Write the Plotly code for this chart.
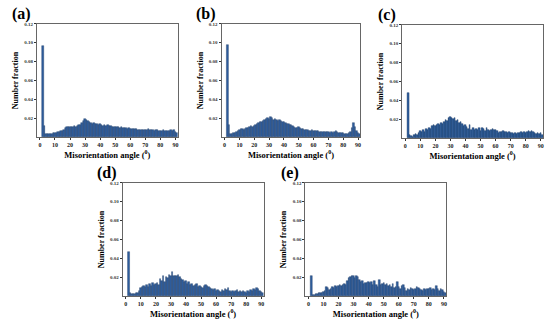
import plotly.graph_objects as go

angles = list(range(2, 92))

frac_a = [0.097, 0.012, 0.004, 0.003, 0.003, 0.004, 0.004, 0.005, 0.005, 0.005,
          0.006, 0.006, 0.007, 0.007, 0.008, 0.010, 0.011, 0.011, 0.011, 0.011,
          0.011, 0.012, 0.011, 0.012, 0.013, 0.013, 0.015, 0.017, 0.019, 0.018,
          0.017, 0.016, 0.015, 0.014, 0.015, 0.014, 0.014, 0.013, 0.014, 0.013,
          0.012, 0.013, 0.012, 0.013, 0.012, 0.012, 0.011, 0.011, 0.011, 0.011,
          0.011, 0.010, 0.011, 0.010, 0.010, 0.010, 0.009, 0.010, 0.009, 0.009,
          0.009, 0.009, 0.009, 0.008, 0.008, 0.008, 0.008, 0.008, 0.008, 0.008,
          0.009, 0.008, 0.008, 0.008, 0.007, 0.008, 0.008, 0.007, 0.007, 0.007,
          0.008, 0.007, 0.007, 0.007, 0.007, 0.008, 0.007, 0.008, 0.006, 0.005]

frac_b = [0.098, 0.013, 0.004, 0.004, 0.005, 0.005, 0.006, 0.007, 0.008, 0.009,
          0.009, 0.008, 0.009, 0.010, 0.010, 0.011, 0.012, 0.011, 0.012, 0.013,
          0.014, 0.015, 0.016, 0.016, 0.017, 0.018, 0.019, 0.020, 0.019, 0.021,
          0.020, 0.018, 0.019, 0.018, 0.017, 0.018, 0.017, 0.016, 0.016, 0.015,
          0.014, 0.014, 0.013, 0.013, 0.012, 0.011, 0.010, 0.010, 0.011, 0.010,
          0.009, 0.009, 0.008, 0.008, 0.008, 0.007, 0.007, 0.008, 0.007, 0.007,
          0.007, 0.007, 0.006, 0.006, 0.006, 0.006, 0.006, 0.006, 0.006, 0.005,
          0.006, 0.005, 0.006, 0.007, 0.006, 0.005, 0.005, 0.005, 0.005, 0.004,
          0.004, 0.004, 0.005, 0.006, 0.010, 0.015, 0.011, 0.007, 0.005, 0.003]

frac_c = [0.048, 0.003, 0.002, 0.001, 0.004, 0.005, 0.004, 0.006, 0.008, 0.007,
          0.009, 0.007, 0.010, 0.009, 0.011, 0.010, 0.013, 0.014, 0.013, 0.014,
          0.015, 0.014, 0.016, 0.015, 0.017, 0.019, 0.018, 0.022, 0.023, 0.022,
          0.020, 0.021, 0.018, 0.019, 0.016, 0.017, 0.015, 0.013, 0.014, 0.012,
          0.010, 0.014, 0.009, 0.011, 0.009, 0.010, 0.009, 0.011, 0.008, 0.011,
          0.010, 0.008, 0.011, 0.009, 0.008, 0.009, 0.010, 0.009, 0.009, 0.008,
          0.006, 0.007, 0.007, 0.008, 0.007, 0.007, 0.006, 0.007, 0.006, 0.006,
          0.005, 0.006, 0.005, 0.006, 0.006, 0.007, 0.006, 0.007, 0.006, 0.007,
          0.008, 0.007, 0.008, 0.007, 0.006, 0.005, 0.006, 0.005, 0.006, 0.004]

frac_d = [0.047, 0.004, 0.002, 0.002, 0.002, 0.003, 0.004, 0.006, 0.009, 0.010,
          0.011, 0.010, 0.012, 0.010, 0.013, 0.011, 0.014, 0.012, 0.013, 0.014,
          0.012, 0.018, 0.016, 0.021, 0.015, 0.020, 0.019, 0.023, 0.021, 0.026,
          0.022, 0.021, 0.022, 0.023, 0.020, 0.018, 0.017, 0.015, 0.016, 0.013,
          0.015, 0.012, 0.013, 0.011, 0.012, 0.013, 0.010, 0.011, 0.010, 0.009,
          0.011, 0.012, 0.011, 0.010, 0.009, 0.008, 0.007, 0.008, 0.006, 0.007,
          0.006, 0.005, 0.007, 0.006, 0.008, 0.007, 0.009, 0.006, 0.005, 0.006,
          0.005, 0.006, 0.007, 0.005, 0.006, 0.005, 0.006, 0.005, 0.004, 0.006,
          0.005, 0.007, 0.006, 0.008, 0.007, 0.009, 0.008, 0.006, 0.005, 0.003]

frac_e = [0.022, 0.001, 0.001, 0.002, 0.002, 0.003, 0.003, 0.004, 0.005, 0.006,
          0.010, 0.009, 0.007, 0.008, 0.010, 0.009, 0.011, 0.010, 0.011, 0.012,
          0.011, 0.012, 0.013, 0.012, 0.016, 0.019, 0.020, 0.021, 0.022, 0.019,
          0.021, 0.020, 0.017, 0.015, 0.016, 0.013, 0.014, 0.014, 0.015, 0.014,
          0.015, 0.012, 0.016, 0.012, 0.010, 0.017, 0.012, 0.013, 0.014, 0.012,
          0.013, 0.011, 0.012, 0.010, 0.013, 0.009, 0.010, 0.015, 0.010, 0.008,
          0.011, 0.012, 0.009, 0.006, 0.008, 0.007, 0.009, 0.008, 0.007, 0.008,
          0.010, 0.009, 0.008, 0.007, 0.006, 0.008, 0.007, 0.008, 0.008, 0.009,
          0.007, 0.008, 0.007, 0.011, 0.008, 0.006, 0.008, 0.007, 0.005, 0.003]

panel_labels = ["(a)", "(b)", "(c)", "(d)", "(e)"]
x_ticks = [0, 10, 20, 30, 40, 50, 60, 70, 80, 90]
y_ticks = [0.02, 0.04, 0.06, 0.08, 0.10, 0.12]
x_title = "Misorientation angle (<sup>0</sup>)"
y_title = "Number fraction"

series = [frac_a, frac_b, frac_c, frac_d, frac_e]

W, H = 550, 320
# pixel boxes: (left, right, top, bottom)
boxes = [(37, 178, 22, 136), (222, 361, 22, 136), (403, 544, 23, 137),
         (123, 264, 182, 296), (306, 447, 182, 296)]

FONT = "Liberation Serif"
fig = go.Figure()
layout = dict(
    width=W, height=H, margin=dict(l=0, r=0, t=0, b=0),
    paper_bgcolor="white", plot_bgcolor="white", showlegend=False,
    bargap=0, font=dict(family=FONT, color="black"),
)
y_ticktext = ["<b>%.2f</b>" % v for v in y_ticks]
x_ticktext = ["<b>%d</b>" % v for v in x_ticks]
annotations = []
for i, (vals, lab, (l, r, t, b)) in enumerate(zip(series, panel_labels, boxes)):
    n = "" if i == 0 else str(i + 1)
    fig.add_trace(go.Bar(
        x=angles, y=vals, width=1,
        marker=dict(color="#2F5E9E", line=dict(color="#1C3A66", width=0.4)),
        xaxis="x" + n, yaxis="y" + n,
    ))
    layout["xaxis" + n] = dict(
        domain=[l / W, r / W], anchor="y" + n, range=[-2, 91.5],
        tickvals=x_ticks, ticktext=x_ticktext, ticks="outside", ticklen=2,
        tickwidth=0.8, tickcolor="#333",
        showgrid=False, zeroline=False, showline=True, linecolor="#666", linewidth=1,
        mirror=True, tickfont=dict(size=6, family=FONT, color="#222"),
        title=dict(text="<b>" + x_title + "</b>", font=dict(size=8.5, family=FONT), standoff=4),
    )
    layout["yaxis" + n] = dict(
        domain=[1 - b / H, 1 - t / H], anchor="x" + n, range=[0, 0.12],
        tickvals=y_ticks, ticktext=y_ticktext, ticks="outside", ticklen=2, tickwidth=0.8,
        tickcolor="#333",
        showgrid=False, zeroline=False, showline=True, linecolor="#666", linewidth=1,
        mirror=True, tickfont=dict(size=5, family=FONT, color="#333"),
        title=dict(text="<b>" + y_title + "</b>", font=dict(size=8, family=FONT), standoff=4),
    )
    annotations.append(dict(
        text="<b>" + lab + "</b>", xref="paper", yref="paper",
        x=(l - 4) / W, y=1 - (t + 1) / H, xanchor="right", yanchor="bottom",
        showarrow=False, font=dict(size=16, family=FONT, color="black"),
    ))
layout["annotations"] = annotations
fig.update_layout(**layout)
fig.write_html("out.html", config={"displayModeBar": False},
               post_script="document.body.style.margin='0';document.body.style.overflow='hidden';")
